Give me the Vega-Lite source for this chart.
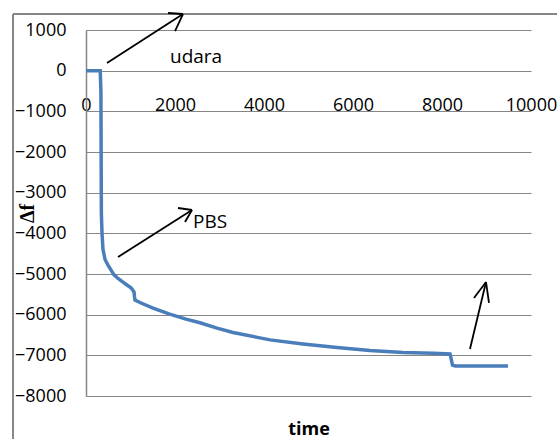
{
  "$schema": "https://vega.github.io/schema/vega-lite/v6.json",
  "width": 445,
  "height": 366,
  "autosize": {"type": "none"},
  "padding": {"left": 86, "top": 30, "right": 26, "bottom": 43},
  "background": "white",
  "config": {"view": {"stroke": null}, "font": "Open Sans"},
  "datasets": {
    "curve": [
      {"x": 0, "y": 0}, {"x": 150, "y": 0}, {"x": 320, "y": 0},
      {"x": 335, "y": -500}, {"x": 340, "y": -2000}, {"x": 345, "y": -3500},
      {"x": 360, "y": -4000}, {"x": 382, "y": -4400}, {"x": 430, "y": -4650},
      {"x": 494, "y": -4780}, {"x": 560, "y": -4900}, {"x": 629, "y": -5020},
      {"x": 720, "y": -5110}, {"x": 831, "y": -5200}, {"x": 920, "y": -5270},
      {"x": 1011, "y": -5340}, {"x": 1079, "y": -5440}, {"x": 1090, "y": -5560},
      {"x": 1101, "y": -5640}, {"x": 1250, "y": -5720}, {"x": 1506, "y": -5840},
      {"x": 1865, "y": -5980}, {"x": 2247, "y": -6110}, {"x": 2562, "y": -6200},
      {"x": 2944, "y": -6330}, {"x": 3303, "y": -6440}, {"x": 3910, "y": -6570},
      {"x": 4135, "y": -6620}, {"x": 4876, "y": -6720}, {"x": 5640, "y": -6810},
      {"x": 6382, "y": -6880}, {"x": 7124, "y": -6930}, {"x": 7800, "y": -6950},
      {"x": 8180, "y": -6965}, {"x": 8205, "y": -7080}, {"x": 8235, "y": -7240},
      {"x": 8300, "y": -7260}, {"x": 8800, "y": -7260}, {"x": 9483, "y": -7260}
    ],
    "arrows": [
      {"x": 472, "y": 189, "x2": 2180, "y2": 1393},
      {"x": 1843, "y": 1418, "x2": 2180, "y2": 1393},
      {"x": 2000, "y": 975, "x2": 2180, "y2": 1393},
      {"x": 719, "y": -4582, "x2": 2382, "y2": -3426},
      {"x": 2067, "y": -3377, "x2": 2382, "y2": -3426},
      {"x": 2225, "y": -3721, "x2": 2382, "y2": -3426},
      {"x": 8629, "y": -6844, "x2": 8989, "y2": -5197},
      {"x": 8719, "y": -5590, "x2": 8989, "y2": -5197},
      {"x": 9056, "y": -5713, "x2": 8989, "y2": -5197}
    ],
    "frame": [
      {"x": -1640, "y": 1393, "x2": 14000, "y2": 1393},
      {"x": -1640, "y": 1393, "x2": -1640, "y2": -12000}
    ],
    "notes": [
      {"x": 1888, "y": 189, "label": "udara"},
      {"x": 2404, "y": -3869, "label": "PBS"}
    ]
  },
  "encoding": {
    "x": {
      "field": "x", "type": "quantitative",
      "scale": {"domain": [0, 10000], "nice": false, "zero": false},
      "axis": {
        "title": "time",
        "format": "d",
        "values": [0, 2000, 4000, 6000, 8000, 10000],
        "orient": "bottom",
        "offset": -325,
        "domain": false,
        "ticks": false,
        "tickSize": 0,
        "grid": false,
        "labelFont": "Open Sans",
        "labelFontSize": 18,
        "labelColor": "black",
        "labelPadding": 25,
        "labelBaseline": "top",
        "labelFlush": false,
        "labelOverlap": false,
        "titleFont": "Open Sans",
        "titleFontSize": 18,
        "titleFontWeight": "bold",
        "titleColor": "black",
        "titleBaseline": "alphabetic",
        "titleY": 363
      }
    },
    "y": {
      "field": "y", "type": "quantitative",
      "scale": {"domain": [-8000, 1000], "nice": false, "zero": false},
      "axis": {
        "title": "Δf",
        "format": "d",
        "values": [-8000, -7000, -6000, -5000, -4000, -3000, -2000, -1000, 0, 1000],
        "domain": true,
        "domainColor": "#868686",
        "domainWidth": 1.5,
        "ticks": false,
        "tickSize": 0,
        "grid": true,
        "gridColor": "#868686",
        "gridWidth": 1,
        "labelFont": "Open Sans",
        "labelFontSize": 18,
        "labelColor": "black",
        "labelPadding": 20,
        "labelFlush": false,
        "labelOverlap": false,
        "titleFont": "Liberation Serif",
        "titleFontSize": 20,
        "titleFontWeight": "bold",
        "titleColor": "black",
        "titleAngle": 270,
        "titleAlign": "center",
        "titleBaseline": "middle",
        "titleX": -59,
        "titleY": 183
      }
    }
  },
  "layer": [
    {
      "data": {"name": "frame"},
      "mark": {"type": "rule", "color": "#868686", "strokeWidth": 2},
      "encoding": {"x2": {"field": "x2"}, "y2": {"field": "y2"}}
    },
    {
      "data": {"name": "curve"},
      "mark": {"type": "line", "color": "#4A7EBB", "strokeWidth": 3.5, "interpolate": "linear"}
    },
    {
      "data": {"name": "arrows"},
      "mark": {"type": "rule", "color": "black", "strokeWidth": 1.8},
      "encoding": {"x2": {"field": "x2"}, "y2": {"field": "y2"}}
    },
    {
      "data": {"name": "notes"},
      "mark": {"type": "text", "align": "left", "baseline": "alphabetic", "font": "Open Sans", "fontSize": 19, "color": "black"},
      "encoding": {"text": {"field": "label"}}
    }
  ]
}
